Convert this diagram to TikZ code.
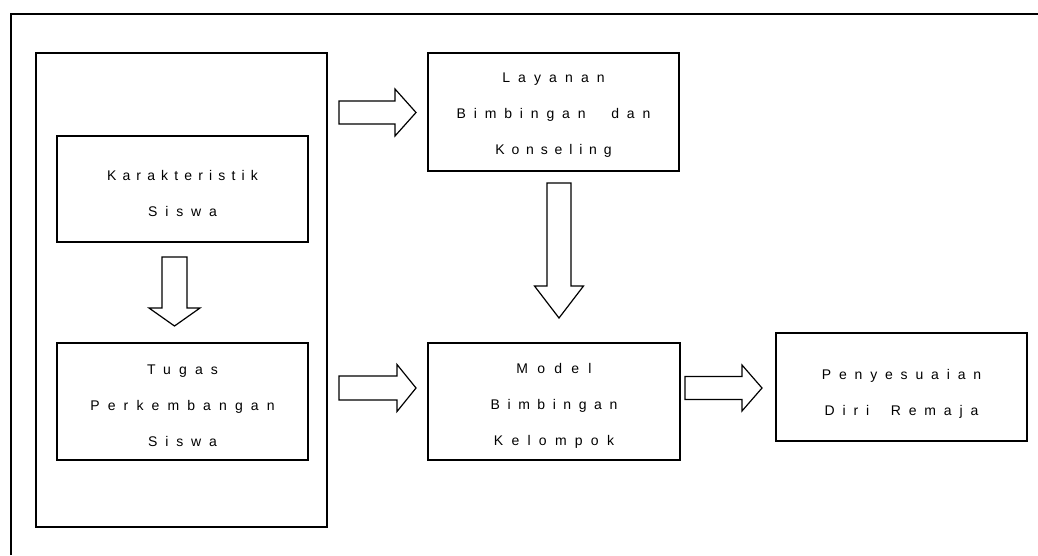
\documentclass[tikz,border=0pt]{standalone}
\usepackage{fontspec}
\setmainfont{Liberation Sans}
\newfontfamily\spacedfont[LetterSpace=56]{Liberation Sans}
\newcommand\ls[2]{{\addfontfeature{LetterSpace=#1}#2}}
\newcommand\blockharrow[6]{% x0, xhead, xtip, y, shaft half, head half
  \draw[blockarrow] (#1,#4-#5) -- (#2,#4-#5) -- (#2,#4-#6) -- (#3,#4)
    -- (#2,#4+#6) -- (#2,#4+#5) -- (#1,#4+#5) -- cycle;}
\newcommand\blockvarrow[6]{% cx, ytop, yhead, ytip, shaft half, head half
  \draw[blockarrow] (#1-#5,#2) -- (#1+#5,#2) -- (#1+#5,#3) -- (#1+#6,#3)
    -- (#1,#4) -- (#1-#6,#3) -- (#1-#5,#3) -- cycle;}
\begin{document}
\begin{tikzpicture}[x=1pt,y=-1pt,
  box/.style={draw=black, line width=1.3pt, rectangle, inner sep=0pt},
  txt/.style={font=\spacedfont\fontsize{14}{36}\selectfont, align=center, inner sep=0pt, anchor=north},
  blockarrow/.style={draw=black, line width=1.2pt, fill=white, line join=miter},
  frame/.style={draw=black, line width=1.4pt}]
\useasboundingbox (0,0) rectangle (1038,555);
\fill[white] (0,0) rectangle (1038,555);
% open outer frame
\coordinate (fbl) at (11,555);
\coordinate (ftl) at (11,14);
\coordinate (ftr) at (1038,14);
\draw[frame] (fbl) -- (ftl) -- (ftr);
% boxes
\node[box, minimum width=291pt, minimum height=474pt] (big) at (181.5,290) {};
\node[box, minimum width=251pt, minimum height=106pt] (kar) at (182.5,189) {};
\node[box, minimum width=251pt, minimum height=117pt] (tug) at (182.5,401.5) {};
\node[box, minimum width=251pt, minimum height=118pt] (lay) at (553.5,112) {};
\node[box, minimum width=252pt, minimum height=117pt] (mod) at (554,401.5) {};
\node[box, minimum width=251pt, minimum height=108pt] (pen) at (901.5,387) {};
% texts
\node[txt] (kart) at (182.5,170) {\ls{44}{Karakteristik}\\Siswa};
\node[txt] (tugt) at (182.5,365) {\ls{58}{Tugas}\\\ls{58}{Perkembangan}\\Siswa};
\node[txt] (layt) at (553.5,73) {\ls{58}{Layanan}\\Bimbingan\hspace{14pt} dan\\\ls{49}{Konseling}};
\node[txt] (modt) at (554,363) {\ls{66}{Model}\\\ls{54}{Bimbingan}\\\ls{59}{Kelompok}};
\node[txt] (pent) at (901.5,369) {Penyesuaian\\Diri\hspace{10pt} Remaja};
% block arrows
\blockvarrow{174.5}{257}{308}{326}{12.5}{25.5}
\blockharrow{339}{395}{416}{112.5}{11.5}{23.5}
\blockvarrow{559}{183}{286}{318}{12}{24.5}
\blockharrow{339}{397}{416}{388}{12}{23.5}
\blockharrow{685}{742}{762}{388}{11.5}{23}
\end{tikzpicture}
\end{document}
